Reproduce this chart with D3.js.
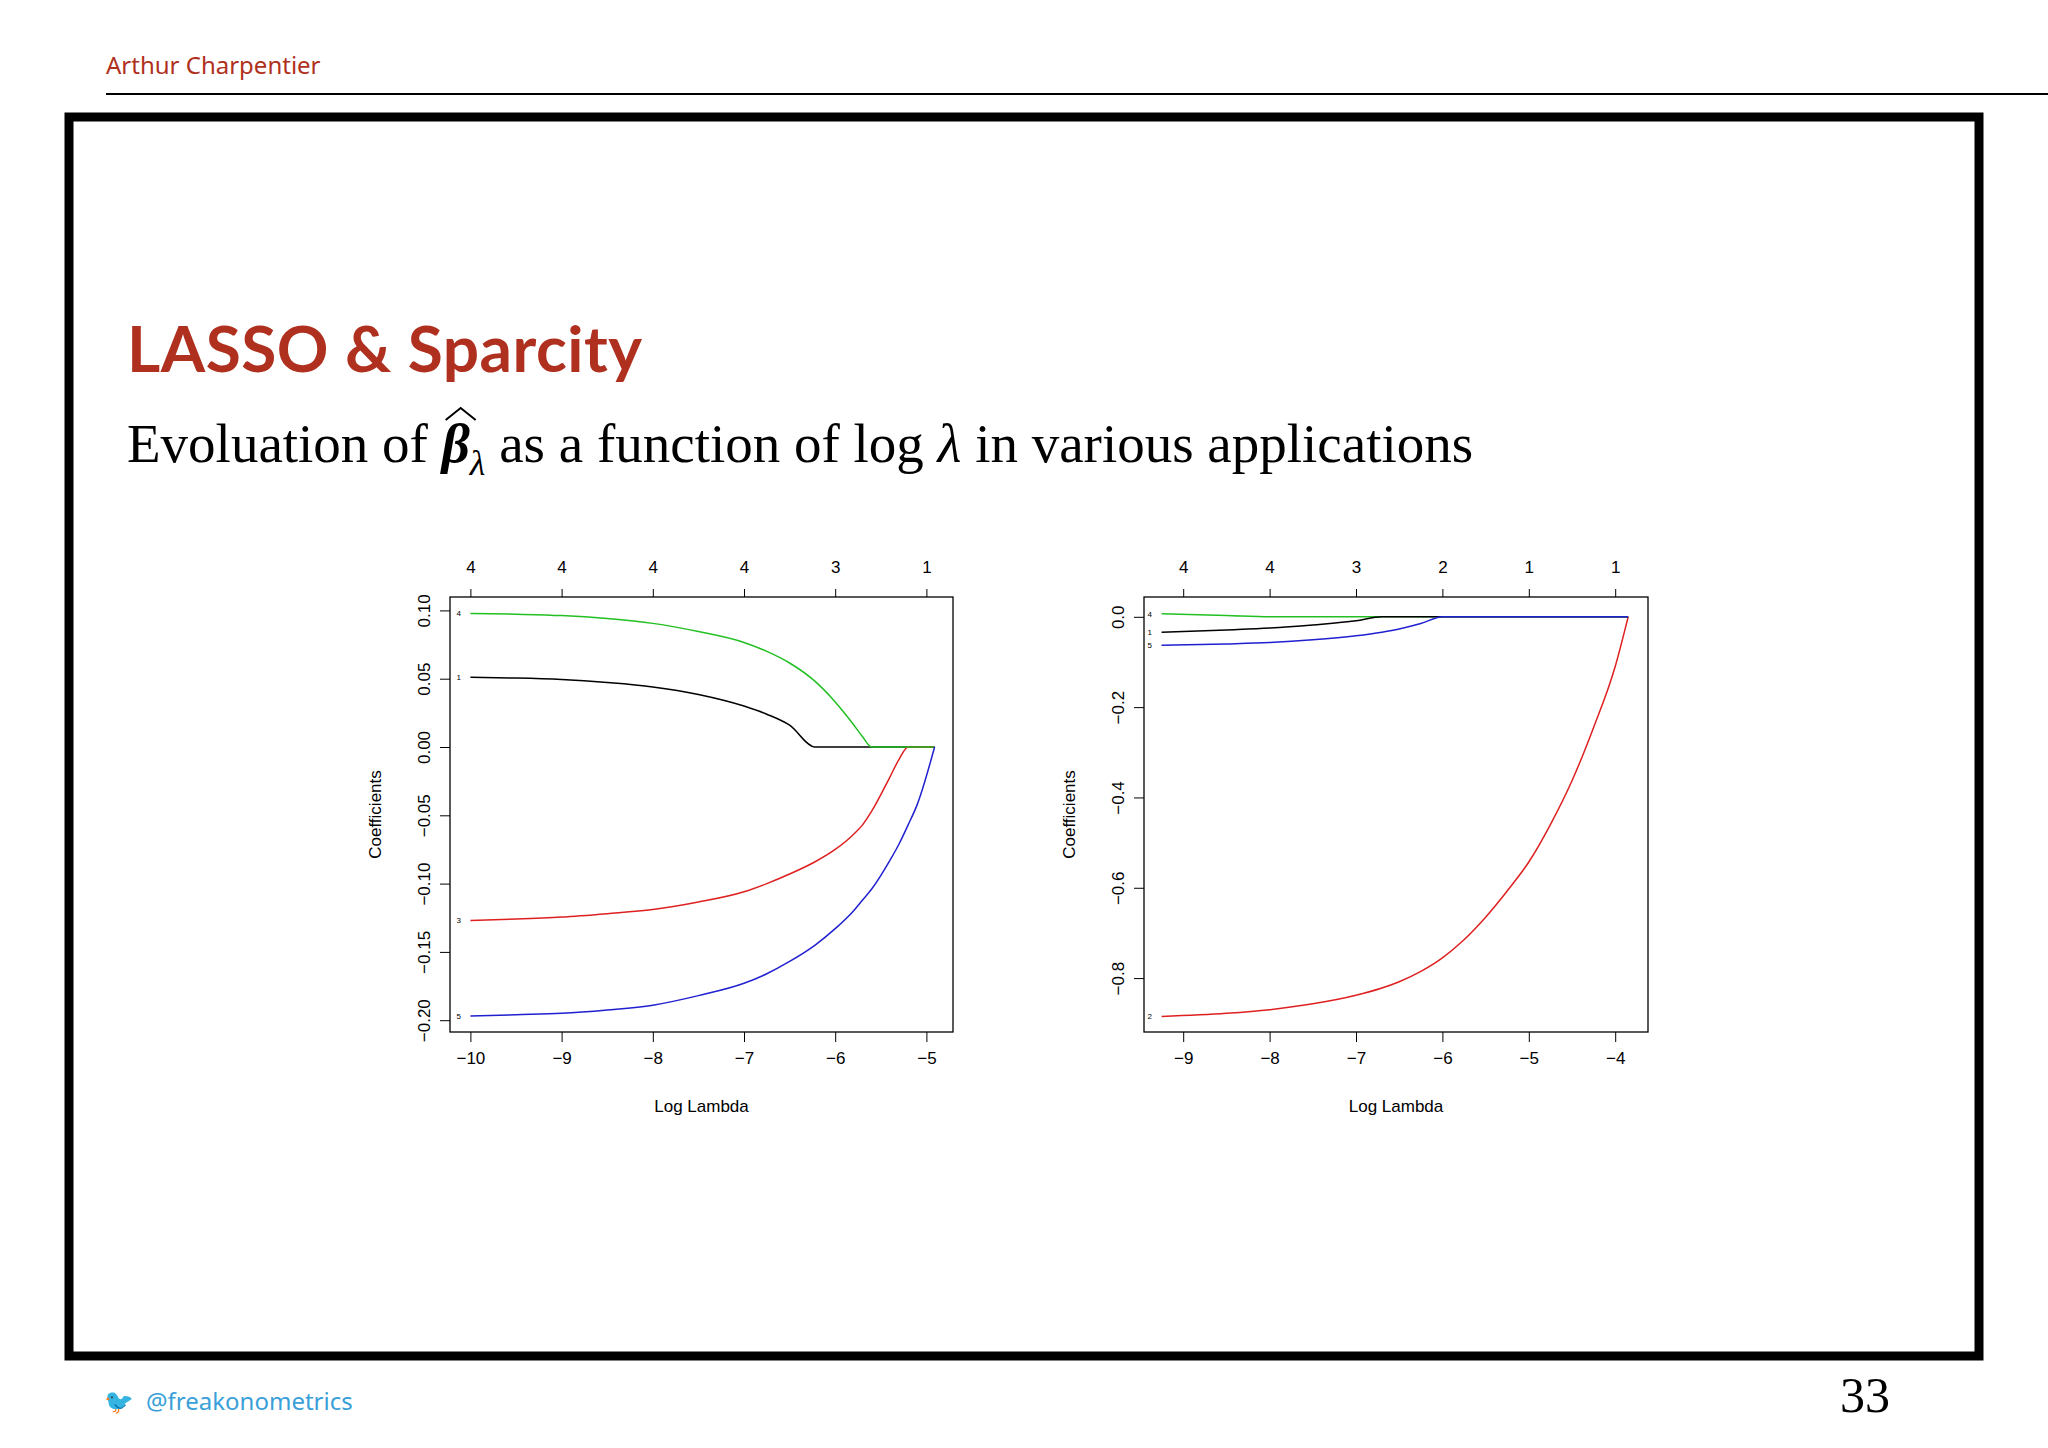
<!DOCTYPE html>
<html><head><meta charset="utf-8">
<script src="https://cdn.jsdelivr.net/npm/d3@7"></script>
<style>body{margin:0;background:#fff}</style>
</head><body>
<script>
var width = 2048, height = 1448;

// left panel data
var lamL = [-10, -9.5, -9, -8.5, -8, -7.5, -7, -6.75, -6.5, -6.22, -6, -5.8, -5.7, -5.6, -5.4, -5.3, -5.2, -5.1, -4.91];
var greenL = [0.0978, 0.0972, 0.0962, 0.0940, 0.0905, 0.0845, 0.0765, 0.0700, 0.0615, 0.0480, 0.0330, 0.0165, 0.0075, 0, 0, 0, 0, 0, 0];
var blackL = [0.051, 0.0505, 0.0494, 0.0472, 0.0440, 0.0385, 0.0300, 0.0240, 0.0160, 0, 0, 0, 0, 0, 0, 0, 0, 0, 0];
var redL = [-0.127, -0.126, -0.1245, -0.122, -0.119, -0.1135, -0.106, -0.100, -0.093, -0.084, -0.075, -0.064, -0.057, -0.047, -0.022, -0.009, 0, 0, 0];
var blueL = [-0.197, -0.196, -0.195, -0.1925, -0.189, -0.182, -0.173, -0.166, -0.157, -0.145, -0.133, -0.120, -0.112, -0.104, -0.083, -0.071, -0.057, -0.042, 0];
var topL = ["4", "4", "4", "4", "3", "1"];

// right panel data
var lamR = [-9.25, -8.5, -8, -7.5, -7, -6.7, -6.5, -6.25, -6, -5.75, -5.5, -5.25, -5, -4.75, -4.5, -4.25, -4, -3.85];
var redR = [-0.885, -0.878, -0.870, -0.857, -0.838, -0.822, -0.808, -0.785, -0.755, -0.715, -0.665, -0.607, -0.543, -0.460, -0.363, -0.245, -0.110, 0];
var greenR = [0.007, 0.003, 0, 0, 0, 0, 0, 0, 0, 0, 0, 0, 0, 0, 0, 0, 0, 0];
var blackR = [-0.034, -0.029, -0.025, -0.018, -0.009, 0, 0, 0, 0, 0, 0, 0, 0, 0, 0, 0, 0, 0];
var blueR = [-0.063, -0.060, -0.057, -0.051, -0.042, -0.034, -0.027, -0.015, 0, 0, 0, 0, 0, 0, 0, 0, 0, 0];
var topR = ["4", "4", "3", "2", "1", "1"];

var svg = d3.select("body").append("svg").attr("width", width).attr("height", height);

svg.append("text").attr("x", 106).attr("y", 74).attr("fill", "#b03020")
  .attr("font-family", "Noto Sans").attr("font-size", 24).text("Arthur Charpentier");
svg.append("line").attr("x1", 106).attr("x2", 2048).attr("y1", 94).attr("y2", 94).attr("stroke", "#000").attr("stroke-width", 2);
svg.append("rect").attr("x", 69).attr("y", 117).attr("width", 1910).attr("height", 1239)
  .attr("fill", "none").attr("stroke", "#000").attr("stroke-width", 9);
svg.append("text").attr("x", 127).attr("y", 372).attr("fill", "#b03020").attr("font-weight", "bold")
  .attr("font-family", "Lato").attr("font-size", 64).attr("textLength", 515).text("LASSO & Sparcity");
var sub = svg.append("text").attr("x", 127).attr("y", 462).attr("font-family", "Liberation Serif, serif").attr("font-size", 55);
sub.append("tspan").text("Evoluation of ");
sub.append("tspan").attr("font-style", "italic").attr("font-weight", "bold").text("β");
sub.append("tspan").attr("font-style", "italic").attr("font-size", 36).attr("dy", 13).text("λ");
sub.append("tspan").attr("dy", -13).text(" as a function of log ");
sub.append("tspan").attr("font-style", "italic").text("λ");
sub.append("tspan").text(" in various applications");
var bx = sub.node().getStartPositionOfChar(14).x;
svg.append("path").attr("d", "M" + (bx + 4) + ",420 L" + (bx + 19) + ",408 L" + (bx + 34) + ",420")
  .attr("fill", "none").attr("stroke", "#000").attr("stroke-width", 2);

svg.append("text").attr("x", 104).attr("y", 1410).attr("fill", "#3a9fd8")
  .attr("font-family", "Noto Sans").attr("font-size", 24).text("🐦");
svg.append("text").attr("x", 146).attr("y", 1410).attr("fill", "#3a9fd8")
  .attr("font-family", "Noto Sans").attr("font-size", 24).text("@freakonometrics");
svg.append("text").attr("x", 1890).attr("y", 1412).attr("text-anchor", "end")
  .attr("font-family", "Liberation Serif").attr("font-size", 50).text("33");

function panel(box, xd, yd, xticks, yticks, yfmt, tops, lam, series) {
  var x = d3.scaleLinear().domain(xd.d).range(xd.r);
  var y = d3.scaleLinear().domain(yd.d).range(yd.r);
  var g = svg.append("g").attr("font-family", "Liberation Sans, Arial").attr("font-size", 17);
  g.append("rect").attr("x", box[0]).attr("y", box[1]).attr("width", box[2] - box[0]).attr("height", box[3] - box[1])
    .attr("fill", "none").attr("stroke", "#000").attr("stroke-width", 1.3);
  var ax = g.append("g").attr("transform", "translate(0," + box[3] + ")")
    .call(d3.axisBottom(x).tickValues(xticks).tickSize(10).tickPadding(10).tickFormat(function(d){ return d3.format("d")(d).replace("-", "−"); }));
  var at = g.append("g").attr("transform", "translate(0," + box[1] + ")")
    .call(d3.axisTop(x).tickValues(xticks).tickSize(8).tickPadding(16).tickFormat(function(d, i){ return tops[i]; }));
  var ay = g.append("g").attr("transform", "translate(" + box[0] + ",0)")
    .call(d3.axisLeft(y).tickValues(yticks).tickSize(10).tickFormat(function(d){ return yfmt(d).replace("-", "−"); }));
  [ax, at, ay].forEach(function(a){ a.select(".domain").remove(); a.selectAll("text").attr("font-size", 17).attr("font-family", "Liberation Sans, Arial"); });
  ay.selectAll(".tick text").attr("text-anchor", "middle").attr("transform", "rotate(-90)").attr("x", 0).attr("y", -20).attr("dy", "0");
  g.append("text").attr("x", (box[0] + box[2]) / 2).attr("y", box[3] + 80).attr("text-anchor", "middle").text("Log Lambda");
  g.append("text").attr("transform", "translate(" + (box[0] - 69) + "," + ((box[1] + box[3]) / 2) + ") rotate(-90)")
    .attr("text-anchor", "middle").text("Coefficients");
  var line = d3.line().curve(d3.curveMonotoneX).x(function(d, i){ return x(lam[i]); }).y(function(d){ return y(d); });
  series.forEach(function(s) {
    g.append("path").datum(s.v).attr("d", line).attr("fill", "none").attr("stroke", s.c).attr("stroke-width", 1.5);
    g.append("text").attr("x", x(lam[0]) - 14).attr("y", y(s.v[0]) + 3).attr("font-size", 8).text(s.n);
  });
}

panel([450, 597, 953, 1032], {d: [-10, -5], r: [470.4, 926.4]}, {d: [0.10, -0.20], r: [610.4, 1020.2]},
  [-10, -9, -8, -7, -6, -5], [0.10, 0.05, 0, -0.05, -0.10, -0.15, -0.20], d3.format(".2f"), topL, lamL,
  [{v: blackL, c: "#000", n: "1"}, {v: redL, c: "#df2020", n: "3"}, {v: greenL, c: "#22c022", n: "4"}, {v: blueL, c: "#2020d0", n: "5"}]);

panel([1144, 597, 1648, 1032], {d: [-9, -4], r: [1183.2, 1615.2]}, {d: [0, -0.8], r: [616.8, 978.1]},
  [-9, -8, -7, -6, -5, -4], [0, -0.2, -0.4, -0.6, -0.8], d3.format(".1f"), topR, lamR,
  [{v: redR, c: "#df2020", n: "2"}, {v: greenR, c: "#22c022", n: "4"}, {v: blackR, c: "#000", n: "1"}, {v: blueR, c: "#2020d0", n: "5"}]);
</script>
</body></html>
